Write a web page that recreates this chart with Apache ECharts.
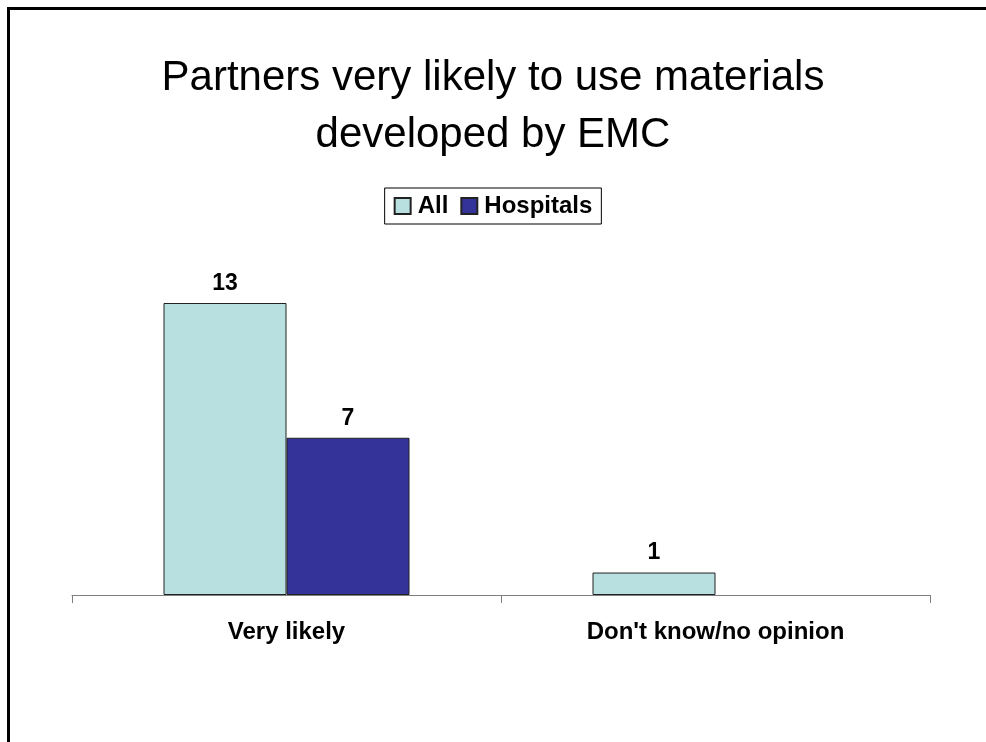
<!DOCTYPE html>
<html><head><meta charset="utf-8">
<script src="https://cdn.jsdelivr.net/npm/echarts@6/dist/echarts.min.js"></script>
<style>html,body{margin:0;padding:0;background:#fff}#c{width:986px;height:742px}</style>
</head><body><div id="c"></div>
<script>
const categories = ["Very likely", "Don't know/no opinion"];
const allValues = [13, 1];
const hospitalValues = [7, 0];
const seriesNames = ["All", "Hospitals"];

const chart = echarts.init(document.getElementById('c'), null, {renderer: 'canvas'});
const font = '"Liberation Sans", Arial, sans-serif';
const labelOpt = {
  show: true, position: 'top', distance: 8, color: '#000',
  fontFamily: font, fontWeight: 'bold', fontSize: 23,
  formatter: p => (p.value ? p.value : '')
};
function toData(vals) {
  return vals.map(v => v ? v : {value: v, itemStyle: {borderWidth: 0}});
}
chart.setOption({
  animation: false,
  backgroundColor: '#fff',
  title: {
    text: 'Partners very likely to use materials\ndeveloped by EMC',
    left: 'center', top: 45,
    textStyle: {fontFamily: font, fontWeight: 'normal', fontSize: 42, lineHeight: 57, color: '#000'}
  },
  legend: {
    data: seriesNames, top: 188, left: 'center',
    itemWidth: 16, itemHeight: 16, itemGap: 12,
    padding: [6, 9, 6, 9],
    borderColor: '#000', borderWidth: 1,
    textStyle: {fontFamily: font, fontWeight: 'bold', fontSize: 24, color: '#000', padding: [0, 0, 0, 2]},
    icon: 'rect'
  },
  grid: {left: 72, right: 56, top: 303, bottom: 147, containLabel: false},
  xAxis: {
    type: 'category', data: categories,
    axisLine: {lineStyle: {color: '#808080', width: 1}},
    axisTick: {show: true, alignWithLabel: false, length: 8, lineStyle: {color: '#808080'}},
    axisLabel: {fontFamily: font, fontWeight: 'bold', fontSize: 24, color: '#000', margin: 25}
  },
  yAxis: {
    type: 'value', min: 0, max: 13, show: false, splitLine: {show: false}
  },
  series: [
    {name: seriesNames[0], type: 'bar', data: toData(allValues), barWidth: 123, barGap: '0%',
     itemStyle: {color: '#B8E0E0', borderColor: '#222', borderWidth: 1}, label: labelOpt},
    {name: seriesNames[1], type: 'bar', data: toData(hospitalValues), barWidth: 123, barGap: '0%',
     itemStyle: {color: '#333399', borderColor: '#222', borderWidth: 1}, label: labelOpt}
  ],
  graphic: [
    {type: 'line', shape: {x1: 7, y1: 8.5, x2: 986, y2: 8.5}, style: {stroke: '#000', lineWidth: 3}},
    {type: 'line', shape: {x1: 8.5, y1: 7, x2: 8.5, y2: 742}, style: {stroke: '#000', lineWidth: 3}}
  ]
});
</script></body></html>
